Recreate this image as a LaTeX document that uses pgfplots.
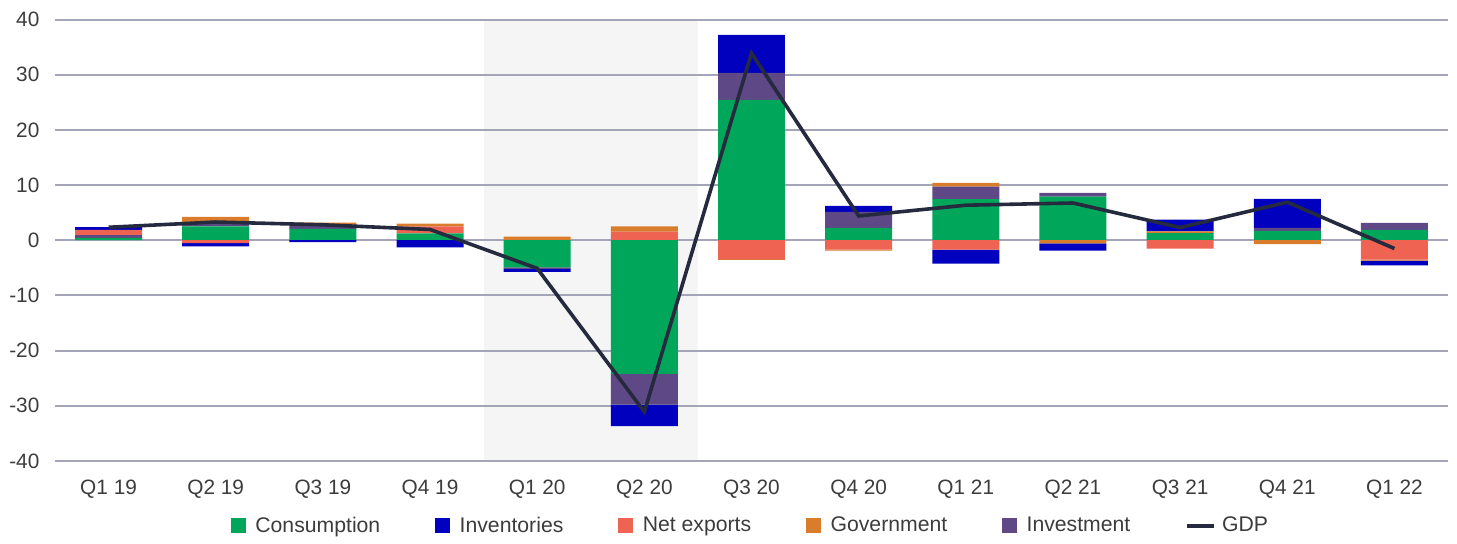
\documentclass[border=0pt]{standalone}
\usepackage{pgfplots}
\pgfplotsset{compat=1.18}
\usepackage{pgfplotstable}
\usepackage{fontspec}
\setmainfont{Liberation Sans}
\definecolor{cons}{RGB}{0,166,90}
\definecolor{inv}{RGB}{0,0,190}
\definecolor{nx}{RGB}{238,99,82}
\definecolor{gov}{RGB}{217,124,43}
\definecolor{invest}{RGB}{94,72,133}
\definecolor{gdpc}{RGB}{38,42,63}
\definecolor{gridc}{RGB}{165,165,185}
\definecolor{bandc}{RGB}{245,245,246}
\definecolor{txtc}{RGB}{60,60,60}

% positive parts
\pgfplotstableread{
x  C      I     NX    G     INV
0  0.45   0.5   0.95  0     0.5
1  2.5    0.7   0     1.05  0
2  2.05   0.8   0     0.35  0
3  1.25   0     1.25  0.5   0
4  0      0     0     0.65  0
5  0      0     1.55  0.95  0
6  25.45  4.9   0     0     6.85
7  2.25   2.9   0     0     1.1
8  7.45   2.25  0     0.7   0
9  7.9    0.7   0     0     0
10 1.3    0     0     0.3   2.15
11 1.7    0.55  0     0     5.25
12 1.9    1.25  0     0     0
}\postab
% negative parts
\pgfplotstableread{
x  C      I     NX    G     INV
0  0      0     0     0     0
1  0      0     -0.5  0     -0.6
2  0      0     0     0     -0.35
3  0      0     0     0     -1.3
4  -4.9   -0.3  0     0     -0.55
5  -24.2  -5.6  0     0     -3.9
6  0      0     -3.4  -0.15 0
7  0      0     -1.7  -0.2  0
8  0      0     -1.7  0     -2.55
9  0      0     0     -0.55 -1.35
10 0      0     -1.5  0     0
11 0      0     0     -0.7  0
12 0      0     -3.5  -0.2  -0.85
}\negtab
\pgfplotstableread{
x  GDP
0  2.35
1  3.3
2  2.8
3  1.95
4  -5.1
5  -31.1
6  33.9
7  4.4
8  6.35
9  6.75
10 2.3
11 6.9
12 -1.5
}\gdptab

\pgfplotsset{common/.style={
  scale only axis, width=696.5pt, height=220.75pt,
  at={(0,0)}, anchor=south west,
  xmin=-0.5, xmax=12.5, ymin=-40, ymax=40}}

\begin{document}
\begin{tikzpicture}
% background band
\begin{axis}[common, hide axis]
  \fill[bandc] (3.5,-40) rectangle (5.5,40);
\end{axis}
% grid, ticks, positive stacks, legend
\begin{axis}[common, name=ax,
  ybar stacked, bar width=0.625,
  ymajorgrids, grid style={color=gridc, line width=1pt},
  axis line style={draw=none}, major tick length=0pt,
  ytick={-40,-30,...,40},
  xtick={0,...,12},
  xticklabels={Q1 19,Q2 19,Q3 19,Q4 19,Q1 20,Q2 20,Q3 20,Q4 20,Q1 21,Q2 21,Q3 21,Q4 21,Q1 22},
  /pgf/number format/assume math mode=true,
  tick label style={font=\fontsize{10.4}{12}\selectfont, text=txtc},
  xticklabel style={yshift=-6pt},
  yticklabel style={xshift=-4.3pt},
  legend columns=6,
  legend style={draw=none, fill=none, at={(0.5,-0.147)}, anchor=center,
    font=\fontsize{10.6}{12}\selectfont, text=txtc,
    /tikz/every even column/.append style={column sep=25.5pt}},
]
  \addplot[fill=cons, draw=none, forget plot] table[x=x, y=C] {\postab};
  \addplot[fill=invest, draw=none, forget plot] table[x=x, y=I] {\postab};
  \addplot[fill=nx, draw=none, forget plot] table[x=x, y=NX] {\postab};
  \addplot[fill=gov, draw=none, forget plot] table[x=x, y=G] {\postab};
  \addplot[fill=inv, draw=none, forget plot] table[x=x, y=INV] {\postab};
  \addlegendimage{legend image code/.code={\fill[cons] (0pt,-3.5pt) rectangle (7pt,3.5pt); \path[draw=none,fill=none] (0pt,-3.5pt) rectangle (10pt,3.5pt);}}
  \addlegendentry{Consumption}
  \addlegendimage{legend image code/.code={\fill[inv] (0pt,-3.5pt) rectangle (7pt,3.5pt); \path[draw=none,fill=none] (0pt,-3.5pt) rectangle (10pt,3.5pt);}}
  \addlegendentry{Inventories}
  \addlegendimage{legend image code/.code={\fill[nx] (0pt,-3.5pt) rectangle (7pt,3.5pt); \path[draw=none,fill=none] (0pt,-3.5pt) rectangle (10pt,3.5pt);}}
  \addlegendentry{Net exports}
  \addlegendimage{legend image code/.code={\fill[gov] (0pt,-3.5pt) rectangle (7pt,3.5pt); \path[draw=none,fill=none] (0pt,-3.5pt) rectangle (10pt,3.5pt);}}
  \addlegendentry{Government}
  \addlegendimage{legend image code/.code={\fill[invest] (0pt,-3.5pt) rectangle (7pt,3.5pt); \path[draw=none,fill=none] (0pt,-3.5pt) rectangle (10pt,3.5pt);}}
  \addlegendentry{Investment}
  \addlegendimage{legend image code/.code={\draw[gdpc, line width=1.7pt] (0pt,0pt) -- (13.5pt,0pt); \path[draw=none,fill=none] (0pt,-3.5pt) rectangle (15.5pt,3.5pt);}}
  \addlegendentry{GDP}
\end{axis}
% negative stacks
\begin{axis}[common, hide axis, ybar stacked, bar width=0.625]
  \addplot[fill=cons, draw=none] table[x=x, y=C] {\negtab};
  \addplot[fill=invest, draw=none] table[x=x, y=I] {\negtab};
  \addplot[fill=nx, draw=none] table[x=x, y=NX] {\negtab};
  \addplot[fill=gov, draw=none] table[x=x, y=G] {\negtab};
  \addplot[fill=inv, draw=none] table[x=x, y=INV] {\negtab};
\end{axis}
% GDP line
\begin{axis}[common, hide axis]
  \addplot[gdpc, line width=1.8pt, mark=none, line join=miter] table[x=x, y=GDP] {\gdptab};
\end{axis}
\path ([xshift=-27.5pt,yshift=-38pt]ax.south west) rectangle ([xshift=4.5pt,yshift=9.75pt]ax.north east);
\end{tikzpicture}
\end{document}
